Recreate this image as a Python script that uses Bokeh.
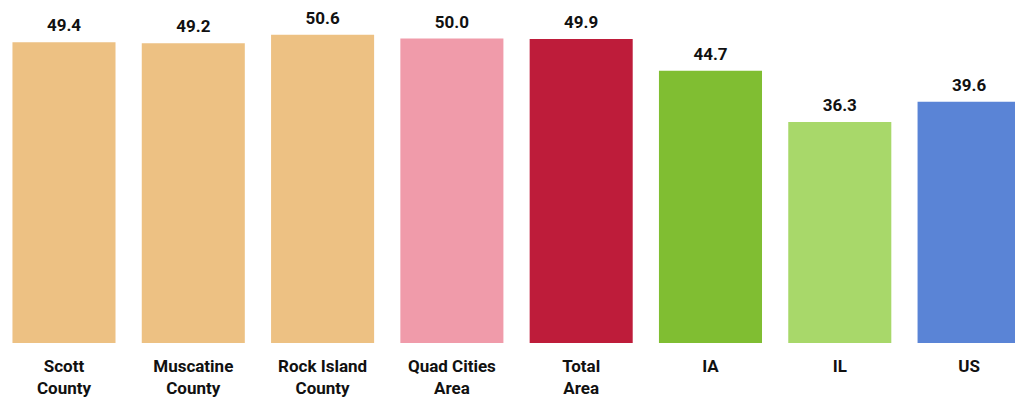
from bokeh.plotting import figure
from bokeh.models import ColumnDataSource, Range1d
from bokeh.core.properties import value
from bokeh.embed import file_html
from bokeh.resources import INLINE

categories = ["Scott\nCounty", "Muscatine\nCounty", "Rock Island\nCounty", "Quad Cities\nArea",
              "Total\nArea", "IA", "IL", "US"]
values = [49.4, 49.2, 50.6, 50.0, 49.9, 44.7, 36.3, 39.6]
colors = ["#EDC183", "#EDC183", "#EDC183", "#F09BAA", "#BE1C3A", "#80BE32", "#A8D86A", "#5A84D6"]

xs = list(range(len(categories)))
line1 = [c.split("\n")[0] for c in categories]
line2 = [c.split("\n")[1] if "\n" in c else "" for c in categories]
labels = ["%.1f" % v for v in values]

src = ColumnDataSource(dict(x=xs, v=values, c=colors, l1=line1, l2=line2, lab=labels))

p = figure(width=1015, height=397, output_backend="svg", toolbar_location=None,
           x_range=Range1d(-0.491, 7.359), y_range=Range1d(-8.95, 56.24),
           min_border=0, min_border_left=0, min_border_right=0,
           min_border_top=0, min_border_bottom=0)
p.axis.visible = False
p.grid.visible = False
p.outline_line_color = None
p.background_fill_color = "white"

p.vbar(x="x", top="v", bottom=0, width=0.797, fill_color="c", line_color=None, source=src)

font = value("Roboto")
p.text(x="x", y="v", text="lab", source=src, text_align="center", text_baseline="alphabetic",
       y_offset=-17, text_font=font, text_font_style="bold", text_font_size="17px",
       text_color="#111111")
p.text(x="x", y=0, text="l1", source=src, text_align="center", text_baseline="alphabetic",
       y_offset=23, text_font=font, text_font_style="bold", text_font_size="17px",
       text_color="#111111")
p.text(x="x", y=0, text="l2", source=src, text_align="center", text_baseline="alphabetic",
       y_offset=45, text_font=font, text_font_style="bold", text_font_size="17px",
       text_color="#111111")

open("out.html", "w").write(file_html(p, INLINE))
